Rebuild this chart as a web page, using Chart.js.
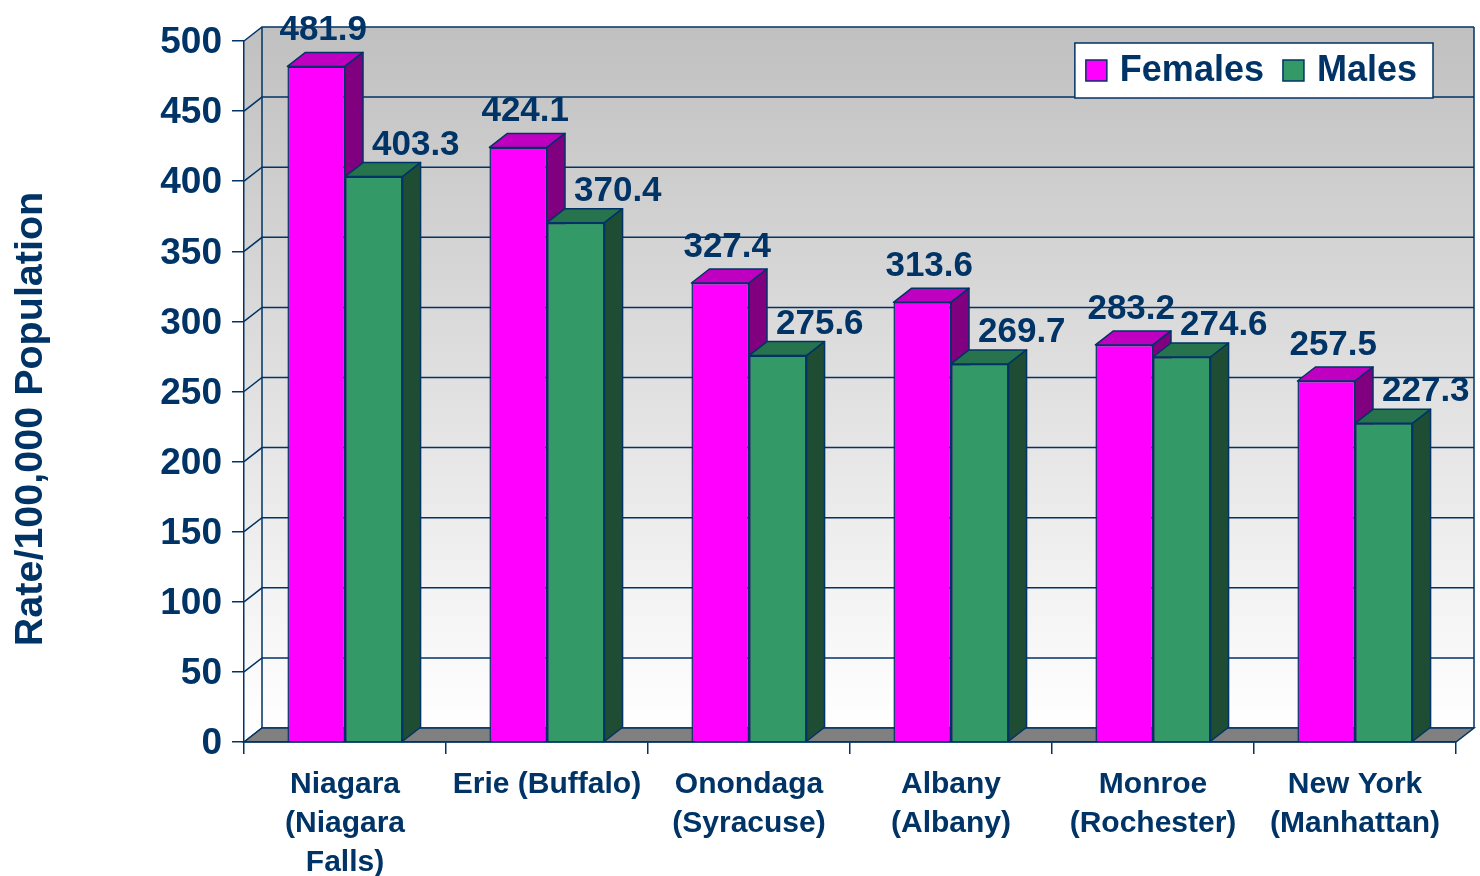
<!DOCTYPE html>
<html>
<head>
<meta charset="utf-8">
<script src="https://cdn.jsdelivr.net/npm/chart.js@4.4.1/dist/chart.umd.min.js"></script>
<style>
    html, body { margin: 0; padding: 0; background: #fff; }
</style>
</head>
<body>
<canvas id="rate-chart" width="1480" height="876"></canvas>
<script>
(function () {
    'use strict';

    // chart data
    const categories = [
        ['Niagara', '(Niagara', 'Falls)'],
        'Erie (Buffalo)',
        ['Onondaga', '(Syracuse)'],
        ['Albany', '(Albany)'],
        ['Monroe', '(Rochester)'],
        ['New York', '(Manhattan)'],
    ];
    const seriesNames = ['Females', 'Males'];
    const females = [481.9, 424.1, 327.4, 313.6, 283.2, 257.5];
    const males = [403.3, 370.4, 275.6, 269.7, 274.6, 227.3];
    const yTitle = 'Rate/100,000 Population';
    const yMin = 0, yMax = 500, yStep = 50;

    // look
    const NAVY = '#003366';
    const FONT = '"Liberation Sans", Arial, sans-serif';
    const DX = 18, DY = -14;          // depth of the 3d effect
    const faceColors = [
        { front: '#ff00ff', top: '#c000c0', side: '#800080', labelDx: 7, labelDy: -26 },
        { front: '#339966', top: '#26734d', side: '#1f4d33', labelDx: 42, labelDy: -22 },
    ];

    function poly(ctx, pts) {
        ctx.beginPath();
        ctx.moveTo(pts[0][0], pts[0][1]);
        for (let i = 1; i < pts.length; i++) ctx.lineTo(pts[i][0], pts[i][1]);
        ctx.closePath();
    }

    const threeD = {
        id: 'threeD',
        beforeDraw(chart) {
            const { ctx, chartArea: a, scales: { y } } = chart;
            const top = y.getPixelForValue(yMax);
            const bot = y.getPixelForValue(yMin);
            ctx.save();
            const g = ctx.createLinearGradient(0, top + DY, 0, bot + DY);
            g.addColorStop(0, '#c0c0c0');
            g.addColorStop(1, '#ffffff');
            ctx.fillStyle = g;
            ctx.fillRect(a.left + DX, top + DY, a.right - a.left, bot - top);
            poly(ctx, [[a.left, top], [a.left + DX, top + DY], [a.left + DX, bot + DY], [a.left, bot]]);
            ctx.fill();

            ctx.strokeStyle = NAVY;
            ctx.lineWidth = 1.5;
            y.ticks.forEach((t) => {
                const py = y.getPixelForValue(t.value);
                ctx.beginPath();
                ctx.moveTo(a.left, py);
                ctx.lineTo(a.left + DX, py + DY);
                ctx.lineTo(a.right + DX, py + DY);
                ctx.stroke();
            });
            ctx.beginPath();
            ctx.moveTo(a.left + DX, top + DY);
            ctx.lineTo(a.left + DX, bot + DY);
            ctx.moveTo(a.right + DX, top + DY);
            ctx.lineTo(a.right + DX, bot + DY);
            ctx.stroke();

            // floor
            ctx.fillStyle = '#808080';
            poly(ctx, [[a.left, bot], [a.left + DX, bot + DY], [a.right + DX, bot + DY], [a.right, bot]]);
            ctx.fill();
            ctx.stroke();
            ctx.restore();
        },
        afterDatasetsDraw(chart) {
            const { ctx } = chart;
            ctx.save();
            ctx.strokeStyle = NAVY;
            ctx.lineWidth = 1.5;
            ctx.lineJoin = 'round';
            // depth faces, series by series so the later front covers the earlier side
            chart.data.datasets.forEach((ds, i) => {
                const c = faceColors[i];
                chart.getDatasetMeta(i).data.forEach((bar) => {
                    if (i > 0) bar.draw(ctx);
                    const { x, y, base, width } = bar.getProps(['x', 'y', 'base', 'width'], true);
                    const l = x - width / 2, r = x + width / 2;
                    ctx.fillStyle = c.top;
                    poly(ctx, [[l, y], [l + DX, y + DY], [r + DX, y + DY], [r, y]]);
                    ctx.fill();
                    ctx.stroke();
                    ctx.fillStyle = c.side;
                    poly(ctx, [[r, y], [r + DX, y + DY], [r + DX, base + DY], [r, base]]);
                    ctx.fill();
                    ctx.stroke();
                });
            });

            // value labels
            ctx.font = 'bold 35px ' + FONT;
            ctx.fillStyle = NAVY;
            ctx.textAlign = 'center';
            ctx.textBaseline = 'alphabetic';
            chart.data.datasets.forEach((ds, i) => {
                const c = faceColors[i];
                chart.getDatasetMeta(i).data.forEach((bar, j) => {
                    const { x, y } = bar.getProps(['x', 'y'], true);
                    ctx.fillText(ds.data[j].toFixed(1), x + c.labelDx, y + c.labelDy);
                });
            });
            ctx.restore();
        },
        afterDraw(chart) {
            const { ctx, chartArea: a } = chart;
            ctx.save();

            // legend box
            ctx.font = 'bold 36px ' + FONT;
            const sw = 21, padL = 11, padR = 16, gapT = 13, gapI = 19;
            const widths = chart.data.datasets.map((d) => ctx.measureText(d.label).width);
            let total = padL + padR;
            widths.forEach((w, i) => { total += sw + gapT + w + (i ? gapI : 0); });
            const boxR = a.right - 23, boxT = 43, boxH = 55;
            const boxL = boxR - total;
            ctx.fillStyle = '#ffffff';
            ctx.fillRect(boxL, boxT, total, boxH);
            ctx.strokeStyle = NAVY;
            ctx.lineWidth = 1.5;
            ctx.strokeRect(boxL, boxT, total, boxH);
            let cx = boxL + padL;
            const cy = boxT + boxH / 2;
            ctx.textBaseline = 'middle';
            ctx.textAlign = 'left';
            chart.data.datasets.forEach((d, i) => {
                ctx.fillStyle = d.backgroundColor;
                ctx.fillRect(cx, cy - sw / 2, sw, sw);
                ctx.strokeRect(cx, cy - sw / 2, sw, sw);
                cx += sw + gapT;
                ctx.fillStyle = NAVY;
                ctx.fillText(d.label, cx, cy + 1);
                cx += widths[i] + gapI;
            });

            // y axis title
            ctx.font = 'bold 39.5px ' + FONT;
            ctx.fillStyle = NAVY;
            ctx.textAlign = 'center';
            ctx.textBaseline = 'middle';
            ctx.translate(31, 419);
            ctx.rotate(-Math.PI / 2);
            ctx.fillText(yTitle, 0, 0);
            ctx.restore();
        },
    };

    const canvas = document.getElementById('rate-chart');

    new Chart(canvas, {
        type: 'bar',
        data: {
            labels: categories,
            datasets: [
                {
                    label: seriesNames[0],
                    data: females,
                    backgroundColor: faceColors[0].front,
                    borderColor: NAVY,
                    borderWidth: 1.5,
                },
                {
                    label: seriesNames[1],
                    data: males,
                    backgroundColor: faceColors[1].front,
                    borderColor: NAVY,
                    borderWidth: 1.5,
                },
            ],
        },
        options: {
            responsive: false,
            animation: false,
            devicePixelRatio: 1,
            layout: { padding: { left: 0, top: 41, right: 24, bottom: 0 } },
            datasets: { bar: { categoryPercentage: 0.57, barPercentage: 1 } },
            plugins: {
                legend: { display: false },
                tooltip: { enabled: false },
            },
            scales: {
                x: {
                    afterFit: (s) => { s.height = 134; },
                    grid: {
                        drawOnChartArea: false,
                        drawTicks: true,
                        tickLength: 12,
                        color: NAVY,
                        lineWidth: 1.5,
                    },
                    border: { display: true, color: NAVY, width: 1.5 },
                    ticks: {
                        color: NAVY,
                        padding: 11,
                        maxRotation: 0,
                        autoSkip: false,
                        font: { family: FONT, size: 30, weight: 'bold', lineHeight: 1.3 },
                    },
                },
                y: {
                    min: yMin,
                    max: yMax,
                    afterFit: (s) => { s.width = 244; },
                    grid: {
                        drawOnChartArea: false,
                        drawTicks: true,
                        tickLength: 12,
                        color: NAVY,
                        lineWidth: 1.5,
                    },
                    border: { display: true, color: NAVY, width: 1.5 },
                    ticks: {
                        stepSize: yStep,
                        color: NAVY,
                        padding: 10,
                        labelOffset: 2,
                        font: { family: FONT, size: 37, weight: 'bold' },
                    },
                },
            },
        },
        plugins: [threeD],
    });
})();
</script>
</body>
</html>
